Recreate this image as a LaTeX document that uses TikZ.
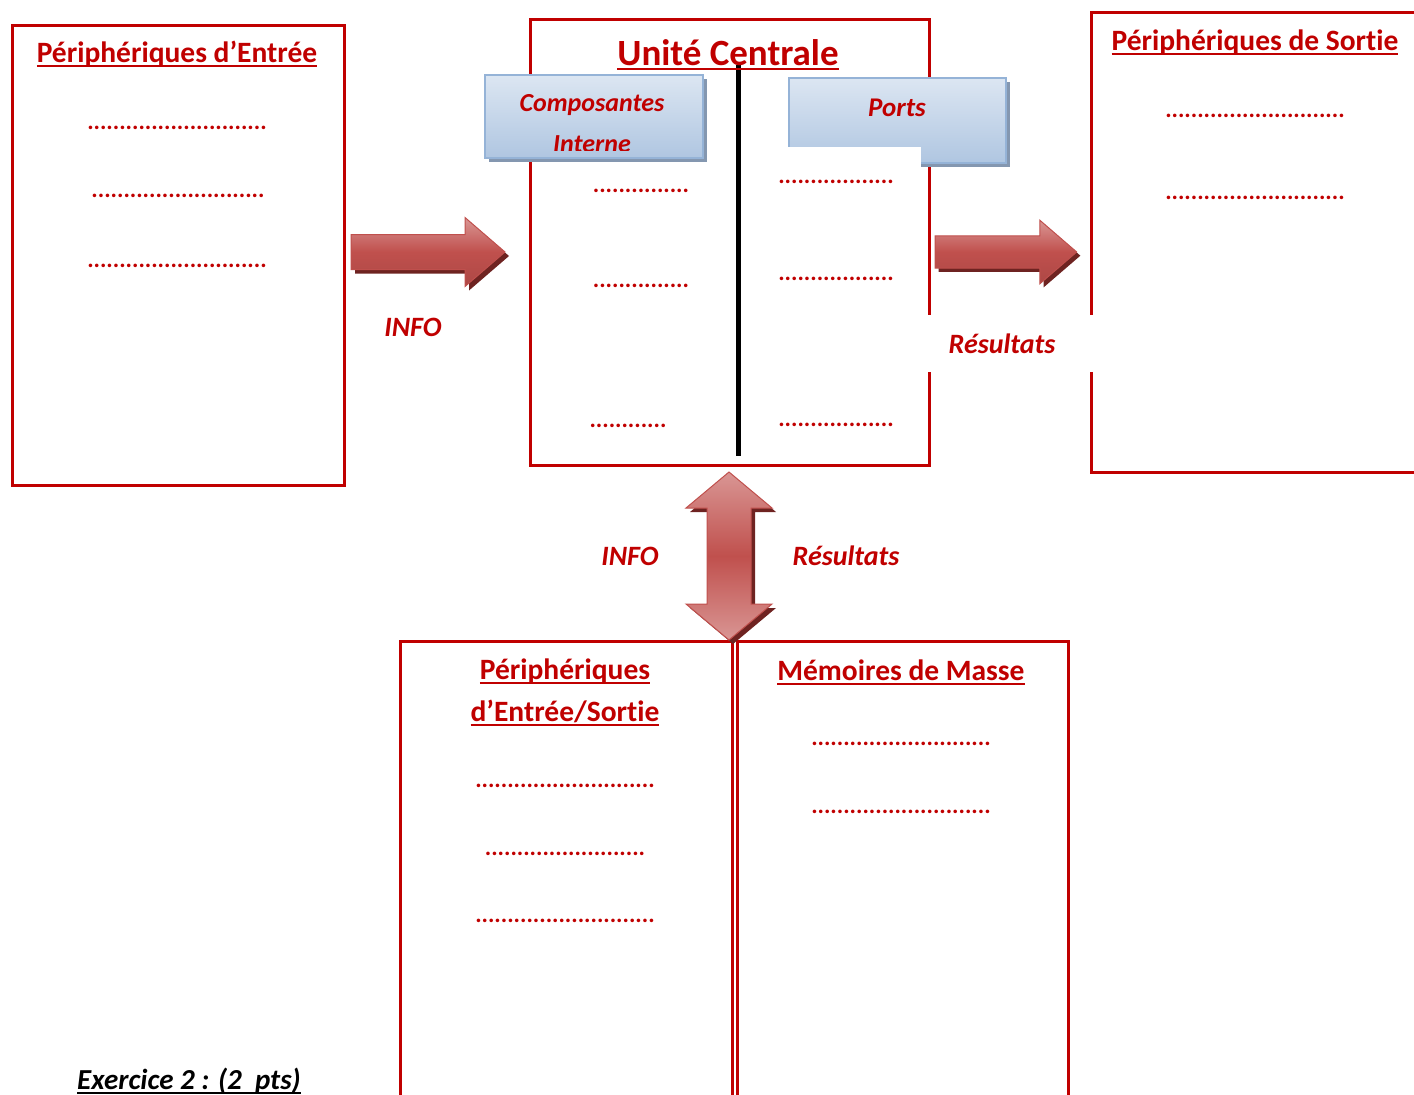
\documentclass[tikz,border=0pt]{standalone}
\usepackage{fontspec}
\setmainfont{Carlito}[Ligatures={TeX,NoCommon}]
\usetikzlibrary{positioning,shadows}

\definecolor{rouge}{HTML}{C00000}
\definecolor{flecheclair}{HTML}{D99694}
\definecolor{flechefonce}{HTML}{C0504D}
\definecolor{ombre}{HTML}{6E2321}
\definecolor{bleuclair}{HTML}{DCE6F2}
\definecolor{bleu}{HTML}{95B3D7}
\definecolor{ombrebleu}{HTML}{8497B0}

\newsavebox\boitesoul
\newcommand{\souligne}[1]{\sbox\boitesoul{#1}\rlap{\rule[-4.5pt]{\wd\boitesoul}{2pt}}\usebox\boitesoul}
\ExplSyntaxOn
\newcommand{\pointilles}[1]{\prg_replicate:nn{#1}{.}}
\ExplSyntaxOff

\tikzset{
    cadre/.style={draw=rouge, line width=3pt, inner sep=0pt, anchor=north west},
    titre/.style={text=rouge, font=\fontsize{29.5}{33}\selectfont\bfseries, anchor=base, inner sep=0pt},
    grandtitre/.style={titre, font=\fontsize{37}{42}\selectfont\bfseries},
    etiquette/.style={text=rouge, font=\fontsize{28}{32}\selectfont\bfseries\itshape, anchor=base, inner sep=0pt},
    pointilles/.style={text=rouge, font=\fontsize{24}{28}\selectfont\bfseries, anchor=base, inner sep=0pt},
    boite/.style={draw=bleu, line width=1.5pt, top color=bleuclair, bottom color=bleu!75,
        anchor=north west, inner sep=0pt,
        drop shadow={shadow xshift=4pt, shadow yshift=-4pt, fill=ombrebleu, opacity=1}},
    fleche/.pic={
        \fill[ombre] (4,-13.5) -- (118,-13.5) -- (118,-30.5) -- (158,4) -- (118,38.5) -- (118,21.5) -- (4,21.5) -- cycle;
        \draw[flechefonce, line width=1pt, top color=flecheclair, bottom color=flechefonce!90!black, middle color=flechefonce]
            (0,-17.5) -- (114,-17.5) -- (114,-34.5) -- (154,0) -- (114,34.5) -- (114,17.5) -- (0,17.5) -- cycle;
    }
}

\begin{document}
\begin{tikzpicture}[x=1pt, y=-1pt]
    \useasboundingbox (0,0) rectangle (1414,1095);
    \clip (0,0) rectangle (1414,1095);

    % cadres
    \node[cadre, minimum width=332, minimum height=460] (entree) at (11,24) {};
    \node[cadre, minimum width=399, minimum height=446] (uc) at (529,18) {};
    \node[cadre, minimum width=340, minimum height=460] (sortie) at (1090,11) {};
    \node[cadre, minimum width=332, minimum height=480] (es) at (399,640) {};
    \node[cadre, minimum width=331, minimum height=480] (memoire) at (736,640) {};

    % boites bleues
    \node[boite, minimum width=218, minimum height=83] (compo) at (484,74) {};
    \node[boite, minimum width=217, minimum height=85] (ports) at (788,77) {};
    \fill[white] (786,147) rectangle (921,167);

    % separation
    \draw[line width=5pt] (738,65) -- (738,456);

    % titres
    \node[titre] (t-entree) at (177,62) {\souligne{Périphériques d’Entrée}};
    \node[grandtitre] (t-uc) at (728,65) {\souligne{Unité Centrale}};
    \node[titre] (t-sortie) at (1255,50) {\souligne{Périphériques de Sortie}};
    \node[titre] (t-es) at (565,679) {\souligne{Périphériques}};
    \node[titre] (t-es2) at (565,721) {\souligne{d’Entrée/Sortie}};
    \node[titre] (t-memoire) at (901,680) {\souligne{Mémoires de Masse}};

    \begin{scope}
        \clip (484,74) rectangle (702,150);
        \node[etiquette, font=\fontsize{26}{30}\selectfont\bfseries\itshape] (t-compo) at (592,111) {Composantes};
        \node[etiquette, font=\fontsize{26}{30}\selectfont\bfseries\itshape] (t-interne) at (592,152) {Interne};
    \end{scope}
    \node[etiquette, font=\fontsize{27}{30}\selectfont\bfseries\itshape] (t-ports) at (897,116) {Ports};

    % pointilles
    \node[pointilles] (e1) at (177,129) {\pointilles{28}};
    \node[pointilles] (e2) at (178,197) {\pointilles{27}};
    \node[pointilles] (e3) at (177,267) {\pointilles{28}};
    \node[pointilles] (c1) at (641,192) {\pointilles{15}};
    \node[pointilles] (c2) at (641,287) {\pointilles{15}};
    \node[pointilles] (c3) at (628,427) {\pointilles{12}};
    \node[pointilles] (p1) at (836,183) {\pointilles{18}};
    \node[pointilles] (p2) at (836,280) {\pointilles{18}};
    \node[pointilles] (p3) at (836,426) {\pointilles{18}};
    \node[pointilles] (s1) at (1255,117) {\pointilles{28}};
    \node[pointilles] (s2) at (1255,199) {\pointilles{28}};
    \node[pointilles] (es1) at (565,787) {\pointilles{28}};
    \node[pointilles] (es2) at (565,855) {\pointilles{25}};
    \node[pointilles] (es3) at (565,922) {\pointilles{28}};
    \node[pointilles] (m1) at (901,745) {\pointilles{28}};
    \node[pointilles] (m2) at (901,813) {\pointilles{28}};

    % fleches
    \pic at (351,252) {fleche};
    \pic[scale=0.92] at (935,252) {fleche};
    \begin{scope}[shift={(729,556)}]
        \fill[ombre] (4,-80) -- (47,-44) -- (26,-44) -- (26,52) -- (47,52) -- (4,88) -- (-39,52) -- (-18,52) -- (-18,-44) -- (-39,-44) -- cycle;
        \draw[flechefonce, line width=1pt, top color=flecheclair, bottom color=flecheclair, middle color=flechefonce]
            (0,-84) -- (43,-48) -- (22,-48) -- (22,48) -- (43,48) -- (0,84) -- (-43,48) -- (-22,48) -- (-22,-48) -- (-43,-48) -- cycle;
    \end{scope}

    % etiquettes
    \fill[white] (927.5,315) rectangle (1093,372);
    \node[etiquette] (info1) at (413,336) {INFO};
    \node[etiquette] (res1) at (1002,353) {Résultats};
    \node[etiquette] (info2) at (630,565) {INFO};
    \node[etiquette] (res2) at (846,565) {Résultats};

    \node[anchor=base west, inner sep=0pt, font=\fontsize{29}{33}\selectfont\bfseries\itshape] (exo) at (77,1089) {\souligne{Exercice 2 : (2\ \ pts)}};
\end{tikzpicture}
\end{document}
